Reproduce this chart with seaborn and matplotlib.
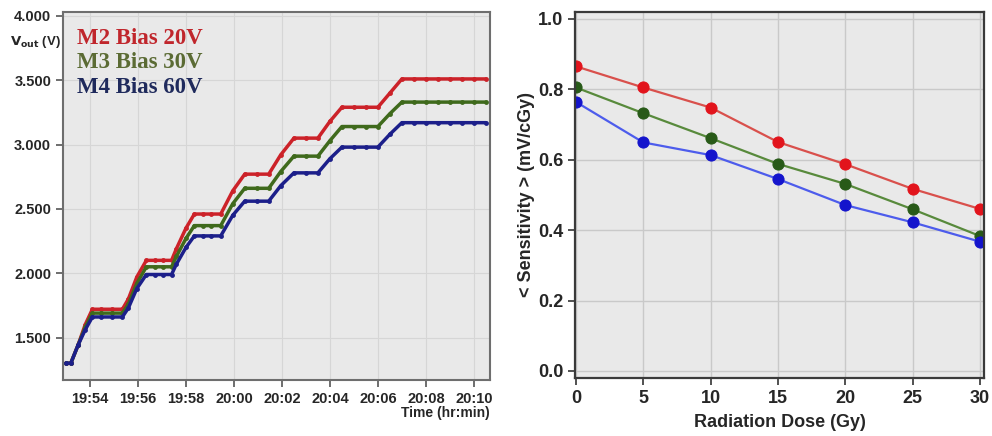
import pandas as pd
import matplotlib.pyplot as plt
import matplotlib.dates as mdates
import seaborn as sns
import numpy as np

# Left panel: Vout vs time (minutes after 19:53)
minutes = [0.0, 0.2, 0.5, 0.8, 1.1, 1.45, 1.9, 2.35, 2.6, 2.95, 3.35, 3.7, 4.05, 4.4,
           4.6, 5.0, 5.35, 5.7, 6.05, 6.45, 6.95, 7.45, 7.95, 8.45, 8.95, 9.5,
           10.0, 10.5, 11.0, 11.5, 12.0, 12.5, 13.0, 13.5, 14.0, 14.5, 15.0,
           15.5, 16.0, 16.5, 17.0, 17.5]
vout_m2 = [1.30, 1.30, 1.44, 1.60, 1.72, 1.72, 1.72, 1.72, 1.80, 1.97, 2.10, 2.10, 2.10, 2.10,
           2.19, 2.35, 2.46, 2.46, 2.46, 2.46, 2.64, 2.77, 2.77, 2.77, 2.92, 3.05,
           3.05, 3.05, 3.18, 3.29, 3.29, 3.29, 3.29, 3.40, 3.51, 3.51, 3.51,
           3.51, 3.51, 3.51, 3.51, 3.51]
vout_m3 = [1.30, 1.30, 1.44, 1.58, 1.69, 1.69, 1.69, 1.69, 1.76, 1.92, 2.05, 2.05, 2.05, 2.05,
           2.13, 2.27, 2.37, 2.37, 2.37, 2.37, 2.54, 2.66, 2.66, 2.66, 2.79, 2.91,
           2.91, 2.91, 3.03, 3.14, 3.14, 3.14, 3.14, 3.24, 3.33, 3.33, 3.33,
           3.33, 3.33, 3.33, 3.33, 3.33]
vout_m4 = [1.30, 1.30, 1.44, 1.56, 1.66, 1.66, 1.66, 1.66, 1.73, 1.88, 1.99, 1.99, 1.99, 1.99,
           2.07, 2.20, 2.29, 2.29, 2.29, 2.29, 2.45, 2.56, 2.56, 2.56, 2.68, 2.78,
           2.78, 2.78, 2.89, 2.98, 2.98, 2.98, 2.98, 3.08, 3.17, 3.17, 3.17,
           3.17, 3.17, 3.17, 3.17, 3.17]
bias_labels = ['M2 Bias 20V', 'M3 Bias 30V', 'M4 Bias 60V']
left_colors = ['#cc2229', '#3f6a1c', '#1c1f8a']
label_colors = ['#c0262c', '#5b6b34', '#1f2a5c']

# Right panel: sensitivity vs dose
dose = [0, 5, 10, 15, 20, 25, 30]
sens_red = [0.865, 0.805, 0.748, 0.650, 0.587, 0.517, 0.460]
sens_green = [0.805, 0.732, 0.661, 0.588, 0.531, 0.459, 0.383]
sens_blue = [0.764, 0.649, 0.613, 0.545, 0.471, 0.422, 0.367]
line_colors = ['#d9504c', '#588a3c', '#4d5cec']
marker_colors = ['#e2141c', '#285a18', '#1414cc']

sns.set_style('ticks', {'axes.facecolor': '#e9e9e9', 'axes.grid': True,
                        'grid.color': '#d2d2d2'})
plt.rcParams['font.family'] = ['Liberation Sans', 'DejaVu Sans']

fig = plt.figure(figsize=(9.92, 4.36), dpi=100)
ax1 = fig.add_axes([0.0635, 0.1284, 0.4304, 0.844])
ax2 = fig.add_axes([0.5796, 0.133, 0.4125, 0.840])

# ---- left
t0 = pd.Timestamp('2016-01-01 19:53:00')
times = t0 + pd.to_timedelta(minutes, unit='min')
for vals, c in zip([vout_m2, vout_m3, vout_m4], left_colors):
    sns.lineplot(x=times, y=vals, ax=ax1, color=c, lw=2.5, marker='o',
                 markersize=3.5, markeredgewidth=0)
ax1.set_ylim(1.17, 4.03)
ax1.set_xlim(t0 - pd.Timedelta(minutes=0.125), t0 + pd.Timedelta(minutes=17.67))
ax1.xaxis.set_major_locator(mdates.MinuteLocator(byminute=range(0, 60, 2)))
ax1.xaxis.set_major_formatter(mdates.DateFormatter('%H:%M'))
ax1.set_yticks([1.5, 2.0, 2.5, 3.0, 3.5, 4.0])
ax1.set_yticklabels(['1.500', '2.000', '2.500', '3.000', '3.500', '4.000'])
ax1.set_xlabel('')
ax1.set_ylabel('')
ax1.tick_params(axis='both', direction='out', length=5, width=1.2, color='#555555',
                labelsize=10.5)
for lab in ax1.get_xticklabels() + ax1.get_yticklabels():
    lab.set_fontweight('bold')
ax1.grid(True, color='#d6d6d6', lw=0.8)
for s in ax1.spines.values():
    s.set_visible(True)
    s.set_color('#6e6e6e')
    s.set_linewidth(1.5)

ys = [0.929, 0.864, 0.796]
for lab, c, yy in zip(bias_labels, label_colors, ys):
    ax1.text(0.033, yy, lab, transform=ax1.transAxes, color=c, fontsize=16.5,
             fontweight='bold', family=['Liberation Serif', 'DejaVu Serif'], va='center')

fig.text(0.036, 1 - 42 / 436, r'$\mathbf{V_{out}}$ (V)', fontsize=9.5, fontweight='bold',
         ha='center', va='center')
fig.text(490 / 992, 1 - 413 / 436, 'Time (hr:min)', fontsize=10, fontweight='bold',
         ha='right', va='center')

# ---- right
for vals, lc, mc in zip([sens_red, sens_green, sens_blue], line_colors, marker_colors):
    sns.lineplot(x=dose, y=vals, ax=ax2, color=lc, lw=1.6, marker='o', markersize=8,
                 markerfacecolor=mc, markeredgecolor=mc)
ax2.set_xlim(-0.07, 30.3)
ax2.set_ylim(-0.02, 1.02)
ax2.set_xticks(dose)
ax2.set_yticks([0.0, 0.2, 0.4, 0.6, 0.8, 1.0])
ax2.set_yticklabels(['0.0', '0.2', '0.4', '0.6', '0.8', '1.0'])
ax2.grid(True, color='#c9c9c9', lw=1.0)
ax2.tick_params(axis='both', direction='out', length=5, width=1.2, color='#333333',
                labelsize=13)
rfont = ['Liberation Sans Narrow', 'Liberation Sans', 'DejaVu Sans']
for lab in ax2.get_xticklabels() + ax2.get_yticklabels():
    lab.set_fontweight('bold')
    lab.set_family(rfont)
ax2.set_xlabel('Radiation Dose (Gy)', fontsize=13, fontweight='bold', family=rfont,
               labelpad=5)
ax2.set_ylabel('< Sensitivity > (mV/cGy)', fontsize=13, fontweight='bold', family=rfont,
               labelpad=2)
for s in ax2.spines.values():
    s.set_visible(True)
    s.set_color('#3a3a3a')
    s.set_linewidth(1.6)

fig.savefig('out.png', dpi=100)
